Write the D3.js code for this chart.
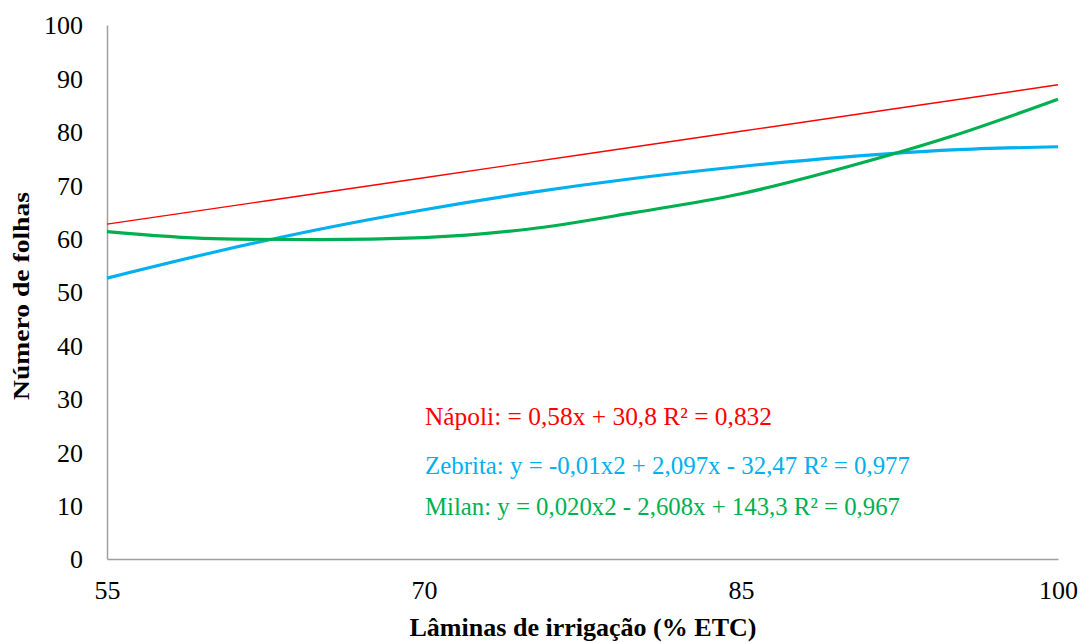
<!DOCTYPE html>
<html>
<head>
<meta charset="utf-8">
<script src="https://cdn.jsdelivr.net/npm/d3@7"></script>
<style>
  html, body { margin: 0; padding: 0; background: #fff; }
  svg { display: block; }
</style>
</head>
<body>
<svg id="chart" width="1081" height="642"></svg>
<script>
// Irrigation levels (% ETC) and fitted leaf counts per cultivar
const laminas = [55, 60, 65, 70, 75, 80, 85, 90, 95, 100];
const napoliX = [55, 70, 85, 100];
const napoli = [62.7, 71.4, 80.1, 88.8];
const zebrita = [52.6, 57.4, 61.7, 65.4, 68.6, 71.3, 73.5, 75.3, 76.6, 77.2];
const milan = [61.3, 60.0, 59.8, 60.2, 61.8, 64.9, 68.4, 73.4, 79.2, 86.1];

const xTicks = [55, 70, 85, 100];
const yTicks = [0, 10, 20, 30, 40, 50, 60, 70, 80, 90, 100];

const equations = [
  { text: "Nápoli:  = 0,58x + 30,8 R² = 0,832", color: "#ff0000" },
  { text: "Zebrita: y = -0,01x2 + 2,097x - 32,47 R² = 0,977", color: "#00b0f0" },
  { text: "Milan: y = 0,020x2 - 2,608x + 143,3 R² = 0,967", color: "#00b050" }
];

const svg = d3.select("#chart");
const margin = { left: 107, right: 23, top: 25, bottom: 83 };
const W = 1081, H = 642;

const x = d3.scaleLinear().domain([55, 100]).range([margin.left, W - margin.right]);
const y = d3.scaleLinear().domain([0, 100]).range([H - margin.bottom, margin.top]);

const serif = "'Liberation Serif', 'Times New Roman', serif";

// Y axis
const yAxis = svg.append("g")
  .attr("transform", `translate(${margin.left},0)`)
  .call(d3.axisLeft(y).tickValues(yTicks).tickSize(0).tickPadding(24));
yAxis.select(".domain").attr("stroke", "#a0a0a0").attr("stroke-width", 1.5);
yAxis.selectAll("text")
  .attr("font-family", serif).attr("font-size", 26).attr("fill", "#000")
  .attr("dy", "0.34em");

// X axis
const xAxis = svg.append("g")
  .attr("transform", `translate(0,${y(0)})`)
  .call(d3.axisBottom(x).tickValues(xTicks).tickSize(0));
xAxis.select(".domain").attr("stroke", "#a0a0a0").attr("stroke-width", 1.5);
xAxis.selectAll("text")
  .attr("font-family", serif).attr("font-size", 26).attr("fill", "#000")
  .attr("y", 40).attr("dy", null);

// Axis titles
svg.append("text")
  .attr("x", 583).attr("y", 636)
  .attr("text-anchor", "middle")
  .attr("font-family", serif).attr("font-size", 26).attr("font-weight", "bold")
  .attr("textLength", 347).attr("lengthAdjust", "spacingAndGlyphs")
  .text("Lâminas de irrigação (% ETC)");

svg.append("text")
  .attr("transform", `translate(29,296) rotate(-90)`)
  .attr("text-anchor", "middle")
  .attr("font-family", serif).attr("font-size", 24).attr("font-weight", "bold")
  .attr("textLength", 208).attr("lengthAdjust", "spacingAndGlyphs")
  .text("Número de folhas");

// Fitted curves
const line = d3.line()
  .x(d => x(d[0]))
  .y(d => y(d[1]))
  .curve(d3.curveMonotoneX);

svg.append("path")
  .datum(napoliX.map((v, i) => [v, napoli[i]]))
  .attr("fill", "none").attr("stroke", "#ff0000").attr("stroke-width", 1.4)
  .attr("d", line);

svg.append("path")
  .datum(laminas.map((v, i) => [v, zebrita[i]]))
  .attr("fill", "none").attr("stroke", "#00b0f0").attr("stroke-width", 3.2)
  .attr("d", line);

svg.append("path")
  .datum(laminas.map((v, i) => [v, milan[i]]))
  .attr("fill", "none").attr("stroke", "#00b050").attr("stroke-width", 3.2)
  .attr("d", line);

// Regression equations
const eqPos = [
  { x: 425, y: 425, w: 347 },
  { x: 425, y: 474, w: 485 },
  { x: 425, y: 515, w: 475 }
];
equations.forEach((e, i) => {
  svg.append("text")
    .attr("x", eqPos[i].x).attr("y", eqPos[i].y)
    .attr("font-family", serif).attr("font-size", 25)
    .attr("fill", e.color)
    .attr("textLength", eqPos[i].w)
    .attr("lengthAdjust", "spacingAndGlyphs")
    .text(e.text);
});
</script>
</body>
</html>
